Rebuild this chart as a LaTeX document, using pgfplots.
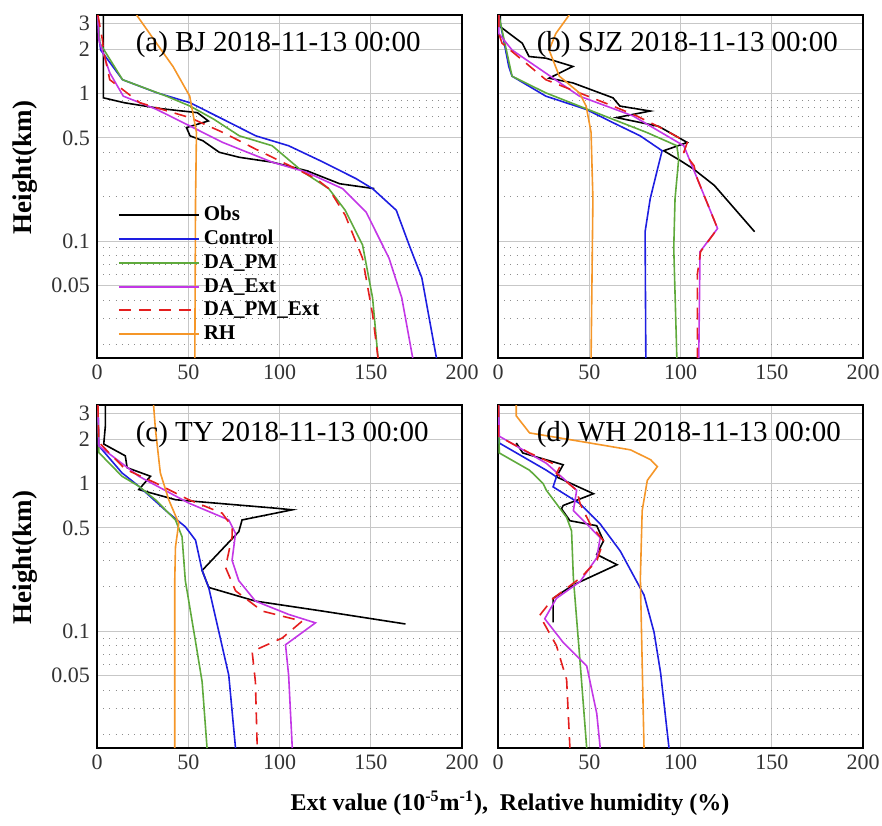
\documentclass[border=0pt]{standalone}
\usepackage{pgfplots}
\pgfplotsset{compat=1.18}
\usepackage{fontspec}
\setmainfont{Liberation Serif}
\definecolor{cobs}{RGB}{0,0,0}
\definecolor{cctl}{RGB}{30,30,225}
\definecolor{cpm}{RGB}{95,170,60}
\definecolor{cext}{RGB}{195,55,230}
\definecolor{cpmext}{RGB}{228,30,30}
\definecolor{crh}{RGB}{245,150,40}
\tikzset{
  ttl/.style={anchor=west, font=\fontsize{14.5}{16}\selectfont},
  sObs/.style={color=cobs},
  sCtl/.style={color=cctl},
  sPm/.style={color=cpm},
  sExt/.style={color=cext},
  sPmExt/.style={color=cpmext, dash pattern=on 6pt off 4pt},
  sRh/.style={color=crh},
}
\pgfplotsset{
  myPanel/.style={
    scale only axis, width=182.5pt, height=171.5pt,
    xmin=0, xmax=200, ymin=0.0162, ymax=3.4,
    xtick={0,50,100,150,200}, xticklabels={0,50,100,150,200},
    ytick={0.05,0.1,0.5,1,2,3},
    minor ytick={0.02,0.03,0.04,0.06,0.07,0.08,0.09,0.2,0.3,0.4,0.6,0.7,0.8,0.9},
    xmajorgrids, ymajorgrids, yminorgrids,
    major grid style={draw=black!22, line width=0.5pt},
    minor grid style={draw=black!45, line width=0.5pt, dash pattern=on 0.5pt off 2.6pt},
    major tick length=0pt, minor tick length=0pt,
    tick label style={font=\fontsize{11}{12}\selectfont, text=black!80},
    axis line style={line width=0.8pt},
    every axis plot/.append style={line width=0.8pt},
  },
  hlab/.style={ylabel={\textbf{Height(km)}},
    ylabel style={font=\fontsize{13.5}{14}\selectfont, at={(ticklabel cs:0.556)}}},
}
\begin{document}
\begin{tikzpicture}
\useasboundingbox (0,0) rectangle (441pt,-412.5pt);

% (a) BJ
\begin{semilogyaxis}[myPanel, hlab, at={(48.5pt,-179pt)}, anchor=south west,
  yticklabels={0.05,0.1,0.5,1,2,3},
  legend style={at={(0.04,0.468)}, anchor=north west, draw=none, fill=none,
    font=\bfseries\fontsize{10.5}{11}\selectfont, row sep=-0.6pt},
  legend cell align=left,
  legend image code/.code={\draw[#1, line width=0.9pt] (0pt,0pt) -- (40pt,0pt);}]
\addplot[sObs] coordinates {(3.5,3.4) (3.5,0.935) (15,0.866) (35,0.79) (55,0.742) (61,0.652) (49,0.588) (51,0.517) (58,0.479) (67,0.40) (78,0.37) (96,0.343) (115,0.30) (133,0.245) (152,0.227)};
\addplot[sCtl] coordinates {(0.5,3.4) (1,2.5) (2,1.97) (14,1.24) (33,1.01) (51,0.866) (69,0.67) (87,0.517) (105,0.443) (124,0.343) (142,0.265) (151,0.227) (164,0.162) (171,0.0945) (178,0.0565) (186,0.0162)};
\addplot[sPm] coordinates {(0.5,3.4) (1.5,2.2) (14,1.24) (38,0.96) (51,0.822) (64,0.67) (78,0.517) (96,0.443) (113,0.294) (127,0.227) (136,0.162) (145.5,0.0945) (151,0.0414) (154,0.0162)};
\addplot[sExt] coordinates {(0.5,3.4) (1,2.3) (7,1.38) (14.4,0.96) (32.6,0.781) (50.8,0.604) (69,0.466) (96,0.343) (114.6,0.294) (134.6,0.227) (147.4,0.158) (160,0.0769) (167,0.0414) (173,0.0162)};
\addplot[sPmExt] coordinates {(0.5,3.4) (3,2.3) (3.5,1.97) (7,1.24) (23.5,0.866) (50.8,0.687) (69,0.545) (87,0.42) (105.5,0.325) (120,0.265) (127,0.227) (136,0.150) (145.5,0.0767) (151,0.032) (154,0.0162)};
\addplot[sRh] coordinates {(21.7,3.4) (32.6,2.19) (41.7,1.52) (50.8,0.96) (54.5,0.545) (54,0.194) (53.6,0.0162)};
\legend{Obs,Control,DA\_PM,DA\_Ext,DA\_PM\_Ext,RH}
\node[ttl] at (rel axis cs:0.087,0.915) {(a) BJ 2018-11-13 00:00};
\end{semilogyaxis}

% (b) SJZ
\begin{semilogyaxis}[myPanel, yticklabels={}, at={(249pt,-179pt)}, anchor=south west]
\addplot[sObs] coordinates {(1.3,3.4) (1.3,2.83) (13.3,2.19) (17,1.78) (26.2,1.735) (41,1.525) (28,1.27) (41,1.18) (63,0.935) (66.8,0.822) (83.4,0.761) (65,0.687) (88,0.60) (103.7,0.466) (90.8,0.41) (100,0.351) (107,0.309) (118.5,0.239) (140.6,0.116)};
\addplot[sCtl] coordinates {(0.4,3.4) (5.9,1.525) (7.7,1.31) (26.2,0.96) (48.3,0.781) (63,0.635) (77.9,0.517) (89.9,0.41) (87,0.294) (83.4,0.194) (80.6,0.116) (81,0.0162)};
\addplot[sPm] coordinates {(0.4,3.4) (7.7,1.31) (26.2,1.01) (44.6,0.822) (63,0.669) (81.5,0.545) (98,0.443) (99,0.36) (97,0.194) (96.3,0.09) (98,0.0162)};
\addplot[sExt] coordinates {(0.4,3.4) (0.4,2.55) (7.7,1.97) (44.6,0.96) (74,0.705) (101.8,0.443) (105.5,0.343) (109.2,0.265) (120.3,0.122) (110.7,0.085) (110,0.0162)};
\addplot[sPmExt] coordinates {(0.4,3.4) (0.4,2.55) (2.2,2.19) (26.2,1.24) (44.6,1.01) (63,0.822) (76,0.705) (90.8,0.573) (103.7,0.466) (101.8,0.40) (107.4,0.325) (109.2,0.265) (120.3,0.122) (111,0.085) (109.2,0.0594) (109.2,0.0162)};
\addplot[sRh] coordinates {(39,3.4) (31.7,2.55) (28,1.97) (33.6,1.31) (44.6,1.01) (48.3,0.822) (51,0.545) (52,0.194) (51,0.0162)};
\node[ttl] at (rel axis cs:0.087,0.915) {(b) SJZ 2018-11-13 00:00};
\end{semilogyaxis}

% (c) TY
\begin{semilogyaxis}[myPanel, hlab, at={(48.5pt,-374pt)}, anchor=south west,
  yticklabels={0.05,0.1,0.5,1,2,3}]
\addplot[sObs] coordinates {(4.6,3.4) (4.6,2.47) (3.7,1.85) (15.5,1.54) (16.5,1.28) (29.3,1.12) (22.9,0.91) (43,0.777) (97.8,0.681) (107,0.664) (97.8,0.63) (79.5,0.567) (77.7,0.472) (57.6,0.258) (61.2,0.198) (86.8,0.16) (123.4,0.137) (169,0.112)};
\addplot[sCtl] coordinates {(0.5,3.4) (1,1.8) (13.7,1.18) (22.9,0.959) (39.3,0.63) (48.4,0.51) (54,0.413) (57.6,0.258) (61.2,0.198) (66.7,0.1) (72.2,0.0504) (75.9,0.0162)};
\addplot[sPm] coordinates {(0.5,3.4) (1,1.62) (13.7,1.12) (22.9,0.959) (32,0.777) (43,0.567) (46.6,0.436) (48.4,0.22) (54,0.085) (57.6,0.0455) (60.3,0.0162)};
\addplot[sExt] coordinates {(0.5,3.4) (1,1.8) (22.9,1.12) (50.3,0.737) (72.2,0.567) (75.9,0.459) (74,0.302) (77.7,0.22) (86.8,0.16) (105,0.130) (119.7,0.114) (103.3,0.081) (105,0.0504) (107,0.0162)};
\addplot[sPmExt] coordinates {(0.5,3.4) (1,1.9) (15.5,1.25) (32,1.01) (50.3,0.777) (68.6,0.63) (74,0.51) (74,0.436) (70.4,0.271) (75.9,0.188) (90.5,0.137) (112.4,0.117) (101.5,0.09) (85,0.073) (86.8,0.0455) (87.8,0.0162)};
\addplot[sRh] coordinates {(31,3.4) (32,2.34) (34.7,1.18) (39.3,0.777) (44.8,0.538) (43,0.372) (42.6,0.22) (42.6,0.0162)};
\node[ttl] at (rel axis cs:0.087,0.915) {(c) TY 2018-11-13 00:00};
\end{semilogyaxis}

% (d) WH
\begin{semilogyaxis}[myPanel, yticklabels={}, at={(249pt,-374pt)}, anchor=south west]
\addplot[sObs] coordinates {(10,1.88) (13.6,1.61) (35.7,1.34) (32,1.11) (52.3,0.853) (35.7,0.71) (34.8,0.674) (39.4,0.56) (54.1,0.518) (57.8,0.409) (54.1,0.331) (65.2,0.282) (41.3,0.206) (30.2,0.167) (30.2,0.115)};
\addplot[sCtl] coordinates {(0.3,3.4) (0.7,1.88) (26.5,1.23) (32,1.11) (30.2,0.949) (45,0.729) (56,0.532) (67,0.349) (80,0.176) (85.5,0.0985) (89.1,0.0522) (93.7,0.0162)};
\addplot[sPm] coordinates {(0.3,3.4) (0.7,1.61) (17.3,1.23) (24.7,1.0) (26.5,0.9) (37.6,0.59) (40.3,0.478) (41.3,0.229) (45,0.0612) (48.6,0.0162)};
\addplot[sExt] coordinates {(0.3,3.4) (0.7,2.09) (26.5,1.37) (43.1,0.9) (41.3,0.656) (48.6,0.532) (56,0.43) (54.1,0.314) (45,0.217) (32,0.167) (25.6,0.1215) (35.7,0.084) (48.6,0.0583) (54.1,0.0278) (56,0.0162)};
\addplot[sPmExt] coordinates {(0.3,3.4) (0.3,2.09) (17.3,1.61) (33.9,1.30) (32,1.17) (43.1,0.9) (45,0.729) (50.5,0.532) (57.8,0.409) (54.1,0.298) (45,0.229) (30.2,0.167) (22.8,0.128) (32,0.08) (37.6,0.047) (39.4,0.0162)};
\addplot[sRh] coordinates {(10,3.4) (10,2.87) (17.3,2.2) (45,1.93) (72.6,1.69) (83.6,1.45) (87.3,1.30) (81.8,1.05) (79,0.656) (78,0.229) (80,0.0162)};
\node[ttl] at (rel axis cs:0.087,0.915) {(d) WH 2018-11-13 00:00};
\end{semilogyaxis}

\node[font=\bfseries\fontsize{12}{13}\selectfont] at (255pt,-401.5pt)
  {Ext value (10\textsuperscript{-5}m\textsuperscript{-1}),\ \ Relative humidity (\%)};
\end{tikzpicture}
\end{document}
